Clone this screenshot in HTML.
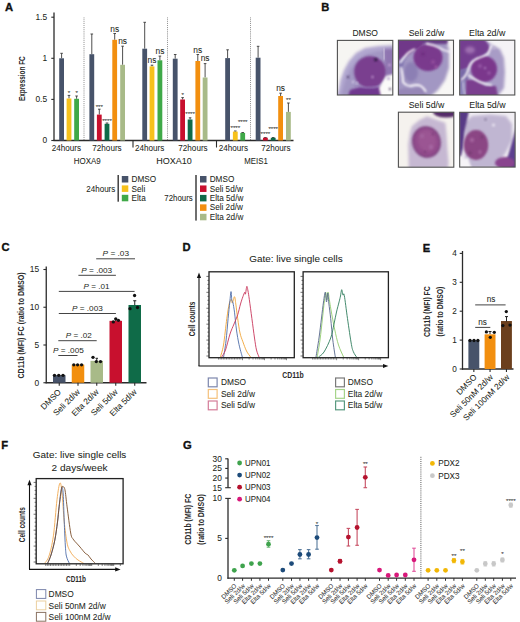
<!DOCTYPE html>
<html><head><meta charset="utf-8"><style>
html,body{margin:0;padding:0;background:#fff;}
svg{display:block;}
text{font-family:"Liberation Sans", sans-serif;}
</style></head><body>
<svg width="520" height="622" viewBox="0 0 520 622">
<rect width="520" height="622" fill="#fff"/>
<text x="5.00" y="11.30" font-size="11.2" text-anchor="start" fill="#111" font-weight="bold" stroke="#111" stroke-width="0.35">A</text>
<line x1="54.00" y1="12.50" x2="54.00" y2="141.00" stroke="#2b2b2b" stroke-width="1.3" />
<line x1="51.30" y1="17.20" x2="54.00" y2="17.20" stroke="#2b2b2b" stroke-width="1.1" />
<text x="47.10" y="20.10" font-size="8.4" text-anchor="end" fill="#231f20" stroke="#231f20" stroke-width="0.05" >1.5</text>
<line x1="51.30" y1="58.30" x2="54.00" y2="58.30" stroke="#2b2b2b" stroke-width="1.1" />
<text x="47.10" y="61.20" font-size="8.4" text-anchor="end" fill="#231f20" stroke="#231f20" stroke-width="0.05" >1</text>
<line x1="51.30" y1="99.40" x2="54.00" y2="99.40" stroke="#2b2b2b" stroke-width="1.1" />
<text x="47.10" y="102.30" font-size="8.4" text-anchor="end" fill="#231f20" stroke="#231f20" stroke-width="0.05" >0.5</text>
<line x1="51.30" y1="140.50" x2="54.00" y2="140.50" stroke="#2b2b2b" stroke-width="1.1" />
<text x="47.10" y="143.40" font-size="8.4" text-anchor="end" fill="#231f20" stroke="#231f20" stroke-width="0.05" >0</text>
<text x="24.70" y="78.70" font-size="8.6" text-anchor="middle" fill="#2a2a2a" font-weight="bold" textLength="44.80" lengthAdjust="spacingAndGlyphs" transform="rotate(-90 24.70 78.70)" >Expression FC</text>
<line x1="53.50" y1="140.50" x2="293.50" y2="140.50" stroke="#2b2b2b" stroke-width="1.3" />
<line x1="133.00" y1="140.50" x2="133.00" y2="147.50" stroke="#2b2b2b" stroke-width="1.1" />
<line x1="216.50" y1="140.50" x2="216.50" y2="147.50" stroke="#2b2b2b" stroke-width="1.1" />
<line x1="84.00" y1="17.50" x2="84.00" y2="140.50" stroke="#5a5a5a" stroke-width="0.8" stroke-dasharray="0.8 1.1"/>
<line x1="167.50" y1="17.50" x2="167.50" y2="140.50" stroke="#5a5a5a" stroke-width="0.8" stroke-dasharray="0.8 1.1"/>
<line x1="250.50" y1="17.50" x2="250.50" y2="140.50" stroke="#5a5a5a" stroke-width="0.8" stroke-dasharray="0.8 1.1"/>
<line x1="61.60" y1="53.30" x2="61.60" y2="58.30" stroke="#3a3a3a" stroke-width="0.9" />
<line x1="60.30" y1="53.30" x2="62.90" y2="53.30" stroke="#3a3a3a" stroke-width="0.9" />
<rect x="59.20" y="58.30" width="4.80" height="82.20" fill="#47536a" />
<line x1="69.00" y1="95.40" x2="69.00" y2="98.50" stroke="#3a3a3a" stroke-width="0.9" />
<line x1="67.70" y1="95.40" x2="70.30" y2="95.40" stroke="#3a3a3a" stroke-width="0.9" />
<rect x="66.60" y="98.50" width="4.80" height="42.00" fill="#f6c11c" />
<text x="69.00" y="95.10" font-size="6.2" text-anchor="middle" fill="#333" stroke="#333" stroke-width="0.05" >*</text>
<line x1="76.60" y1="96.00" x2="76.60" y2="98.80" stroke="#3a3a3a" stroke-width="0.9" />
<line x1="75.30" y1="96.00" x2="77.90" y2="96.00" stroke="#3a3a3a" stroke-width="0.9" />
<rect x="74.20" y="98.80" width="4.80" height="41.70" fill="#3fa948" />
<text x="76.60" y="95.10" font-size="6.2" text-anchor="middle" fill="#333" stroke="#333" stroke-width="0.05" >*</text>
<line x1="91.80" y1="34.00" x2="91.80" y2="54.20" stroke="#3a3a3a" stroke-width="0.9" />
<line x1="90.50" y1="34.00" x2="93.10" y2="34.00" stroke="#3a3a3a" stroke-width="0.9" />
<rect x="89.40" y="54.20" width="4.80" height="86.30" fill="#47536a" />
<line x1="99.30" y1="109.20" x2="99.30" y2="114.60" stroke="#3a3a3a" stroke-width="0.9" />
<line x1="98.00" y1="109.20" x2="100.60" y2="109.20" stroke="#3a3a3a" stroke-width="0.9" />
<rect x="96.90" y="114.60" width="4.80" height="25.90" fill="#c8102e" />
<text x="99.30" y="109.10" font-size="6.2" text-anchor="middle" fill="#333" stroke="#333" stroke-width="0.05" >***</text>
<line x1="107.00" y1="123.00" x2="107.00" y2="123.80" stroke="#3a3a3a" stroke-width="0.9" />
<line x1="105.70" y1="123.00" x2="108.30" y2="123.00" stroke="#3a3a3a" stroke-width="0.9" />
<rect x="104.60" y="123.80" width="4.80" height="16.70" fill="#0f6b48" />
<text x="107.00" y="123.40" font-size="6.2" text-anchor="middle" fill="#333" stroke="#333" stroke-width="0.05" >****</text>
<line x1="114.70" y1="33.50" x2="114.70" y2="39.80" stroke="#3a3a3a" stroke-width="0.9" />
<line x1="113.40" y1="33.50" x2="116.00" y2="33.50" stroke="#3a3a3a" stroke-width="0.9" />
<rect x="112.30" y="39.80" width="4.80" height="100.70" fill="#f28f0f" />
<text x="114.70" y="31.50" font-size="8.4" text-anchor="middle" fill="#231f20" stroke="#231f20" stroke-width="0.05" >ns</text>
<line x1="122.60" y1="46.20" x2="122.60" y2="64.80" stroke="#3a3a3a" stroke-width="0.9" />
<line x1="121.30" y1="46.20" x2="123.90" y2="46.20" stroke="#3a3a3a" stroke-width="0.9" />
<rect x="120.20" y="64.80" width="4.80" height="75.70" fill="#a8ba88" />
<text x="122.60" y="43.60" font-size="8.4" text-anchor="middle" fill="#231f20" stroke="#231f20" stroke-width="0.05" >ns</text>
<line x1="144.70" y1="22.30" x2="144.70" y2="48.70" stroke="#3a3a3a" stroke-width="0.9" />
<line x1="143.40" y1="22.30" x2="146.00" y2="22.30" stroke="#3a3a3a" stroke-width="0.9" />
<rect x="142.30" y="48.70" width="4.80" height="91.80" fill="#47536a" />
<line x1="152.00" y1="65.20" x2="152.00" y2="66.40" stroke="#3a3a3a" stroke-width="0.9" />
<line x1="150.70" y1="65.20" x2="153.30" y2="65.20" stroke="#3a3a3a" stroke-width="0.9" />
<rect x="149.60" y="66.40" width="4.80" height="74.10" fill="#f6c11c" />
<text x="152.00" y="62.70" font-size="8.4" text-anchor="middle" fill="#231f20" stroke="#231f20" stroke-width="0.05" >ns</text>
<line x1="159.90" y1="56.10" x2="159.90" y2="60.30" stroke="#3a3a3a" stroke-width="0.9" />
<line x1="158.60" y1="56.10" x2="161.20" y2="56.10" stroke="#3a3a3a" stroke-width="0.9" />
<rect x="157.50" y="60.30" width="4.80" height="80.20" fill="#3fa948" />
<text x="159.90" y="54.00" font-size="8.4" text-anchor="middle" fill="#231f20" stroke="#231f20" stroke-width="0.05" >ns</text>
<line x1="175.20" y1="54.50" x2="175.20" y2="58.70" stroke="#3a3a3a" stroke-width="0.9" />
<line x1="173.90" y1="54.50" x2="176.50" y2="54.50" stroke="#3a3a3a" stroke-width="0.9" />
<rect x="172.80" y="58.70" width="4.80" height="81.80" fill="#47536a" />
<line x1="182.60" y1="97.60" x2="182.60" y2="99.50" stroke="#3a3a3a" stroke-width="0.9" />
<line x1="181.30" y1="97.60" x2="183.90" y2="97.60" stroke="#3a3a3a" stroke-width="0.9" />
<rect x="180.20" y="99.50" width="4.80" height="41.00" fill="#c8102e" />
<text x="182.60" y="96.60" font-size="6.2" text-anchor="middle" fill="#333" stroke="#333" stroke-width="0.05" >*</text>
<line x1="190.10" y1="117.80" x2="190.10" y2="119.50" stroke="#3a3a3a" stroke-width="0.9" />
<line x1="188.80" y1="117.80" x2="191.40" y2="117.80" stroke="#3a3a3a" stroke-width="0.9" />
<rect x="187.70" y="119.50" width="4.80" height="21.00" fill="#0f6b48" />
<text x="190.10" y="116.10" font-size="6.2" text-anchor="middle" fill="#333" stroke="#333" stroke-width="0.05" >****</text>
<line x1="197.80" y1="54.50" x2="197.80" y2="61.00" stroke="#3a3a3a" stroke-width="0.9" />
<line x1="196.50" y1="54.50" x2="199.10" y2="54.50" stroke="#3a3a3a" stroke-width="0.9" />
<rect x="195.40" y="61.00" width="4.80" height="79.50" fill="#f28f0f" />
<text x="197.80" y="52.80" font-size="8.4" text-anchor="middle" fill="#231f20" stroke="#231f20" stroke-width="0.05" >ns</text>
<line x1="205.10" y1="63.60" x2="205.10" y2="77.50" stroke="#3a3a3a" stroke-width="0.9" />
<line x1="203.80" y1="63.60" x2="206.40" y2="63.60" stroke="#3a3a3a" stroke-width="0.9" />
<rect x="202.70" y="77.50" width="4.80" height="63.00" fill="#a8ba88" />
<text x="205.10" y="61.00" font-size="8.4" text-anchor="middle" fill="#231f20" stroke="#231f20" stroke-width="0.05" >ns</text>
<line x1="227.60" y1="49.80" x2="227.60" y2="58.10" stroke="#3a3a3a" stroke-width="0.9" />
<line x1="226.30" y1="49.80" x2="228.90" y2="49.80" stroke="#3a3a3a" stroke-width="0.9" />
<rect x="225.20" y="58.10" width="4.80" height="82.40" fill="#47536a" />
<line x1="235.30" y1="131.00" x2="235.30" y2="131.60" stroke="#3a3a3a" stroke-width="0.9" />
<line x1="234.00" y1="131.00" x2="236.60" y2="131.00" stroke="#3a3a3a" stroke-width="0.9" />
<rect x="232.90" y="131.60" width="4.80" height="8.90" fill="#f6c11c" />
<text x="235.30" y="130.30" font-size="6.2" text-anchor="middle" fill="#333" stroke="#333" stroke-width="0.05" >****</text>
<line x1="242.70" y1="132.50" x2="242.70" y2="132.90" stroke="#3a3a3a" stroke-width="0.9" />
<line x1="241.40" y1="132.50" x2="244.00" y2="132.50" stroke="#3a3a3a" stroke-width="0.9" />
<rect x="240.30" y="132.90" width="4.80" height="7.60" fill="#3fa948" />
<text x="242.70" y="124.20" font-size="6.2" text-anchor="middle" fill="#333" stroke="#333" stroke-width="0.05" >****</text>
<line x1="258.10" y1="46.30" x2="258.10" y2="57.70" stroke="#3a3a3a" stroke-width="0.9" />
<line x1="256.80" y1="46.30" x2="259.40" y2="46.30" stroke="#3a3a3a" stroke-width="0.9" />
<rect x="255.70" y="57.70" width="4.80" height="82.80" fill="#47536a" />
<line x1="265.40" y1="137.50" x2="265.40" y2="137.70" stroke="#3a3a3a" stroke-width="0.9" />
<line x1="264.10" y1="137.50" x2="266.70" y2="137.50" stroke="#3a3a3a" stroke-width="0.9" />
<rect x="263.00" y="137.70" width="4.80" height="2.80" fill="#c8102e" />
<text x="265.40" y="136.20" font-size="6.2" text-anchor="middle" fill="#333" stroke="#333" stroke-width="0.05" >****</text>
<line x1="273.20" y1="137.50" x2="273.20" y2="137.80" stroke="#3a3a3a" stroke-width="0.9" />
<line x1="271.90" y1="137.50" x2="274.50" y2="137.50" stroke="#3a3a3a" stroke-width="0.9" />
<rect x="270.80" y="137.80" width="4.80" height="2.70" fill="#0f6b48" />
<text x="273.20" y="131.00" font-size="6.2" text-anchor="middle" fill="#333" stroke="#333" stroke-width="0.05" >****</text>
<line x1="280.60" y1="93.20" x2="280.60" y2="96.00" stroke="#3a3a3a" stroke-width="0.9" />
<line x1="279.30" y1="93.20" x2="281.90" y2="93.20" stroke="#3a3a3a" stroke-width="0.9" />
<rect x="278.20" y="96.00" width="4.80" height="44.50" fill="#f28f0f" />
<text x="280.60" y="91.00" font-size="8.4" text-anchor="middle" fill="#231f20" stroke="#231f20" stroke-width="0.05" >ns</text>
<line x1="288.40" y1="103.00" x2="288.40" y2="111.90" stroke="#3a3a3a" stroke-width="0.9" />
<line x1="287.10" y1="103.00" x2="289.70" y2="103.00" stroke="#3a3a3a" stroke-width="0.9" />
<rect x="286.00" y="111.90" width="4.80" height="28.60" fill="#a8ba88" />
<text x="288.40" y="102.10" font-size="6.2" text-anchor="middle" fill="#333" stroke="#333" stroke-width="0.05" >**</text>
<text x="66.40" y="151.20" font-size="8.2" text-anchor="middle" fill="#231f20" stroke="#231f20" stroke-width="0.05" textLength="29.30" lengthAdjust="spacingAndGlyphs" >24hours</text>
<text x="107.00" y="151.20" font-size="8.2" text-anchor="middle" fill="#231f20" stroke="#231f20" stroke-width="0.05" textLength="29.30" lengthAdjust="spacingAndGlyphs" >72hours</text>
<text x="149.60" y="151.20" font-size="8.2" text-anchor="middle" fill="#231f20" stroke="#231f20" stroke-width="0.05" textLength="29.30" lengthAdjust="spacingAndGlyphs" >24hours</text>
<text x="193.00" y="151.20" font-size="8.2" text-anchor="middle" fill="#231f20" stroke="#231f20" stroke-width="0.05" textLength="29.30" lengthAdjust="spacingAndGlyphs" >72hours</text>
<text x="233.40" y="151.20" font-size="8.2" text-anchor="middle" fill="#231f20" stroke="#231f20" stroke-width="0.05" textLength="29.30" lengthAdjust="spacingAndGlyphs" >24hours</text>
<text x="275.80" y="151.20" font-size="8.2" text-anchor="middle" fill="#231f20" stroke="#231f20" stroke-width="0.05" textLength="29.30" lengthAdjust="spacingAndGlyphs" >72hours</text>
<text x="87.30" y="164.00" font-size="8.2" text-anchor="middle" fill="#231f20" stroke="#231f20" stroke-width="0.05" textLength="27.00" lengthAdjust="spacingAndGlyphs" >HOXA9</text>
<text x="174.00" y="164.00" font-size="8.2" text-anchor="middle" fill="#231f20" stroke="#231f20" stroke-width="0.05" textLength="35.50" lengthAdjust="spacingAndGlyphs" >HOXA10</text>
<text x="256.00" y="164.00" font-size="8.2" text-anchor="middle" fill="#231f20" stroke="#231f20" stroke-width="0.05" textLength="23.50" lengthAdjust="spacingAndGlyphs" >MEIS1</text>
<text x="115.30" y="191.50" font-size="8.2" text-anchor="end" fill="#231f20" stroke="#231f20" stroke-width="0.05" textLength="29.00" lengthAdjust="spacingAndGlyphs" >24hours</text>
<rect x="117.50" y="175.00" width="1.40" height="26.70" fill="#333" />
<rect x="121.80" y="176.00" width="6.50" height="6.50" fill="#47536a" />
<text x="131.60" y="182.10" font-size="8.2" text-anchor="start" fill="#231f20" stroke="#231f20" stroke-width="0.05" >DMSO</text>
<rect x="121.80" y="185.40" width="6.50" height="6.50" fill="#f6c11c" />
<text x="131.60" y="191.50" font-size="8.2" text-anchor="start" fill="#231f20" stroke="#231f20" stroke-width="0.05" >Seli</text>
<rect x="121.80" y="194.80" width="6.50" height="6.50" fill="#3fa948" />
<text x="131.60" y="200.90" font-size="8.2" text-anchor="start" fill="#231f20" stroke="#231f20" stroke-width="0.05" >Elta</text>
<text x="192.70" y="201.00" font-size="8.2" text-anchor="end" fill="#231f20" stroke="#231f20" stroke-width="0.05" textLength="28.40" lengthAdjust="spacingAndGlyphs" >72hours</text>
<rect x="195.30" y="175.00" width="1.40" height="45.60" fill="#333" />
<rect x="200.00" y="176.00" width="6.50" height="6.50" fill="#47536a" />
<text x="209.70" y="182.10" font-size="8.2" text-anchor="start" fill="#231f20" stroke="#231f20" stroke-width="0.05" >DMSO</text>
<rect x="200.00" y="185.45" width="6.50" height="6.50" fill="#c8102e" />
<text x="209.70" y="191.55" font-size="8.2" text-anchor="start" fill="#231f20" stroke="#231f20" stroke-width="0.05" >Seli 5d/w</text>
<rect x="200.00" y="194.90" width="6.50" height="6.50" fill="#0f6b48" />
<text x="209.70" y="201.00" font-size="8.2" text-anchor="start" fill="#231f20" stroke="#231f20" stroke-width="0.05" >Elta 5d/w</text>
<rect x="200.00" y="204.35" width="6.50" height="6.50" fill="#f28f0f" />
<text x="209.70" y="210.45" font-size="8.2" text-anchor="start" fill="#231f20" stroke="#231f20" stroke-width="0.05" >Seli 2d/w</text>
<rect x="200.00" y="213.80" width="6.50" height="6.50" fill="#a8ba88" />
<text x="209.70" y="219.90" font-size="8.2" text-anchor="start" fill="#231f20" stroke="#231f20" stroke-width="0.05" >Elta 2d/w</text>
<text x="321.30" y="11.00" font-size="11.2" text-anchor="start" fill="#111" font-weight="bold" stroke="#111" stroke-width="0.35">B</text>
<text x="365.20" y="36.30" font-size="9" text-anchor="middle" fill="#231f20" stroke="#231f20" stroke-width="0.05" textLength="25.50" lengthAdjust="spacingAndGlyphs" >DMSO</text>
<text x="426.50" y="36.30" font-size="9" text-anchor="middle" fill="#231f20" stroke="#231f20" stroke-width="0.05" textLength="35.50" lengthAdjust="spacingAndGlyphs" >Seli 2d/w</text>
<text x="487.20" y="36.30" font-size="9" text-anchor="middle" fill="#231f20" stroke="#231f20" stroke-width="0.05" textLength="36.30" lengthAdjust="spacingAndGlyphs" >Elta 2d/w</text>
<text x="426.50" y="108.40" font-size="9" text-anchor="middle" fill="#231f20" stroke="#231f20" stroke-width="0.05" textLength="35.50" lengthAdjust="spacingAndGlyphs" >Seli 5d/w</text>
<text x="487.40" y="108.40" font-size="9" text-anchor="middle" fill="#231f20" stroke="#231f20" stroke-width="0.05" textLength="36.30" lengthAdjust="spacingAndGlyphs" >Elta 5d/w</text>
<defs><filter id="b1" x="-50%" y="-50%" width="200%" height="200%"><feGaussianBlur stdDeviation="1.4"/></filter><filter id="b2" x="-50%" y="-50%" width="200%" height="200%"><feGaussianBlur stdDeviation="2.2"/></filter><filter id="b05" x="-50%" y="-50%" width="200%" height="200%"><feGaussianBlur stdDeviation="0.8"/></filter><filter id="desat" x="0" y="0" width="100%" height="100%"><feColorMatrix type="saturate" values="0.72"/></filter><clipPath id="cB1"><rect x="337.4" y="40.4" width="55.4" height="54.6"/></clipPath><clipPath id="cB2"><rect x="398.4" y="40.2" width="55.1" height="54.8"/></clipPath><clipPath id="cB3"><rect x="459.7" y="40.2" width="55.1" height="54.8"/></clipPath><clipPath id="cB4"><rect x="398.4" y="112.2" width="55.4" height="55.0"/></clipPath><clipPath id="cB5"><rect x="459.7" y="112.3" width="55.4" height="54.8"/></clipPath></defs>
<g clip-path="url(#cB1)"><g filter="url(#desat)"><rect x="337" y="40" width="56" height="56" fill="#f7f5f1"/><path d="M336,97 L338.5,90 L340.5,80 L344,70 L349,61 L356,53 L365,48 L378,46 L394,45 L394,97 Z" fill="#b4a6dc" filter="url(#b1)"/><path d="M341,97 L343,88 L346,78 L351,68 L357,60 L366,54 L378,51 L394,50 L394,97 Z" fill="#a494cf" filter="url(#b1)"/><path d="M384,49 L394,49 L394,80 L386,80 Z" fill="#9470c0" filter="url(#b1)"/><circle cx="370" cy="72" r="15.8" fill="#84309e" filter="url(#b05)"/><path d="M348,97 L350,90 L360,87 L372,88 L384,86 L386,97 Z" fill="#7a2ca0" filter="url(#b05)"/><path d="M354,86 Q366,89 380,86" stroke="#9a70c4" stroke-width="1" fill="none" filter="url(#b05)"/><path d="M386,76 L394,74 L394,97 L381,97 L379,88 Z" fill="#fbfaf8" filter="url(#b05)"/><line x1="384" y1="48" x2="384.5" y2="60" stroke="#e8e0f4" stroke-width="1.2" filter="url(#b05)"/><circle cx="375.8" cy="59.7" r="1.6" fill="#2e1048" filter="url(#b05)"/><circle cx="348" cy="77" r="1.1" fill="#3e2060" filter="url(#b05)"/><circle cx="390" cy="89" r="1.1" fill="#3e2060" filter="url(#b05)"/><circle cx="353" cy="82" r="1.2" fill="#d8c8f0" filter="url(#b05)"/><circle cx="357" cy="83" r="1" fill="#d8c8f0" filter="url(#b05)"/><circle cx="372.5" cy="77" r="1.2" fill="#c890dc" filter="url(#b05)"/><circle cx="389.5" cy="65" r="1.2" fill="#d8a8e8" filter="url(#b05)"/><circle cx="388.5" cy="78.5" r="1.5" fill="#b8a0d8" filter="url(#b05)"/></g></g>
<rect x="337.4" y="40.4" width="55.4" height="54.6" fill="none" stroke="#505050" stroke-width="1.1"/>
<g clip-path="url(#cB2)"><g filter="url(#desat)"><rect x="398" y="40" width="56" height="56" fill="#f8f7f4"/><path d="M397,39 L446,39 L449,50 L449,68 L445,80 L438,90 L430,97 L397,97 Z" fill="#a494cf" filter="url(#b1)"/><path d="M397,39 L428,39 L421,47 L412,52 L404,58 L397,63 Z" fill="#7a2c98" filter="url(#b05)"/><path d="M420,39 L448,39 L447,44 L435,44 L424,43 Z" fill="#6e3494" filter="url(#b05)"/><path d="M397,64 L402,58 L408,54 L404,62 L402,72 Z" fill="#8070c0" filter="url(#b05)"/><ellipse cx="411" cy="72" rx="7" ry="10" fill="#8e7cc2" filter="url(#b1)"/><path d="M397,90 L405,88 L412,89 L420,87 L426,92 L426,97 L397,97 Z" fill="#9a84c4" filter="url(#b05)"/><ellipse cx="428" cy="57.5" rx="14.5" ry="13.5" fill="#85299c" filter="url(#b05)"/><circle cx="433" cy="62" r="2.2" fill="#9a3aa8" filter="url(#b05)"/><circle cx="423" cy="54" r="2" fill="#7a2290" filter="url(#b05)"/><circle cx="436" cy="67" r="1.4" fill="#b050b4" filter="url(#b05)"/><path d="M400,63 Q404,57 408,53 Q412,50 415,49" stroke="#fbf8fd" stroke-width="1.8" fill="none" filter="url(#b05)"/><path d="M401,67 Q403,76 403,82 Q406,86 411,86 Q417,84 421,86 Q424,88 426,92" stroke="#fbf8fd" stroke-width="1.9" fill="none" filter="url(#b05)"/><path d="M426,43.5 Q434,45 440,48 Q444,51 452,52" stroke="#f6f0fa" stroke-width="1.8" fill="none" filter="url(#b05)"/></g></g>
<rect x="398.4" y="40.2" width="55.1" height="54.8" fill="none" stroke="#505050" stroke-width="1.1"/>
<g clip-path="url(#cB3)"><g filter="url(#desat)"><rect x="459" y="40" width="57" height="56" fill="#f6f3f7"/><path d="M459,39 L484,39 L492,45 L500,49 L504,58 L505,72 L504,88 L497,97 L459,97 Z" fill="#aa9ad2" filter="url(#b1)"/><path d="M466,56 L476,52 L486,52 L482,57 L472,60 L467,62 Z" fill="#7a60b8" filter="url(#b05)"/><path d="M459,39 L484,39 L488,44 L490,50 L482,56 L472,60 L468,68 L459,72 Z" fill="#7e30a0" filter="url(#b05)"/><ellipse cx="470" cy="50" rx="5" ry="3.5" fill="#a868c0" filter="url(#b1)"/><path d="M459,70 L468,68 L468,80 L462,82 L459,82 Z" fill="#7a66b8" filter="url(#b05)"/><path d="M459,82 L466,80 L466,97 L459,97 Z" fill="#8a80c8" filter="url(#b05)"/><circle cx="484" cy="69" r="13" fill="#86289c" filter="url(#b05)"/><circle cx="480" cy="66" r="2" fill="#a04ab4" filter="url(#b05)"/><circle cx="489" cy="73" r="1.8" fill="#a04ab4" filter="url(#b05)"/><circle cx="485" cy="68" r="1.1" fill="#c88ad8" filter="url(#b05)"/><path d="M466,80 L474,80 L486,86 L496,86 L498,97 L466,97 Z" fill="#86309e" filter="url(#b05)"/><path d="M461,80 Q466,77 468,70 Q470,62 476,59 Q484,56 488,54 Q490,49 492,45" stroke="#fbf8fd" stroke-width="1.9" fill="none" filter="url(#b05)"/><path d="M468,75 Q474,79 480,82 Q486,85 492,85" stroke="#f8f4fb" stroke-width="1.7" fill="none" filter="url(#b05)"/><path d="M463,82 Q463,88 465,95" stroke="#e8e0f4" stroke-width="1" fill="none" filter="url(#b05)"/><circle cx="494" cy="48" r="1.5" fill="#c8b8e0" filter="url(#b05)"/></g></g>
<rect x="459.7" y="40.2" width="55.1" height="54.8" fill="none" stroke="#505050" stroke-width="1.1"/>
<g clip-path="url(#cB4)"><g filter="url(#desat)"><rect x="398" y="112" width="56" height="56" fill="#f6f2ec"/><path d="M408.8,169 L408.2,144.3 L410,132 L412,126 L419.5,120 L427,116.3 L435.7,119.5 L445.4,122.8 L446.5,133.5 L447.5,149.7 L448.6,162.6 L448,169 Z" fill="#c9b6da" filter="url(#b1)"/><ellipse cx="426.5" cy="142" rx="13.6" ry="15.2" fill="#9e3e98" stroke="#7e2a80" stroke-width="1.2" transform="rotate(-15 426.5 142)" filter="url(#b05)"/><ellipse cx="427" cy="141" rx="9" ry="11" fill="#a8489e" transform="rotate(-15 427 141)" filter="url(#b1)"/><ellipse cx="446" cy="112" rx="13" ry="5.5" fill="#5c2474" filter="url(#b05)"/><circle cx="422" cy="136" r="2" fill="#b05aaa" filter="url(#b05)"/><circle cx="431" cy="147" r="2.2" fill="#b25cae" filter="url(#b05)"/><circle cx="425" cy="152" r="1.6" fill="#8e3488" filter="url(#b05)"/><circle cx="433" cy="134" r="1.5" fill="#8e3488" filter="url(#b05)"/></g></g>
<rect x="398.4" y="112.2" width="55.4" height="55.0" fill="none" stroke="#505050" stroke-width="1.1"/>
<g clip-path="url(#cB5)"><g filter="url(#desat)"><rect x="459" y="112" width="57" height="56" fill="#f2eef5"/><path d="M465,122 L472,116 L490,114.5 L506,116 L512,124 L512,140 L506,152 L496,168 L465,168 Z" fill="#c2b4da" filter="url(#b1)"/><path d="M459,111 L469,111 L467,120 L464.5,132 L463,148 L461,156 L459,156 Z" fill="#5c3296" filter="url(#b05)"/><path d="M516,128 L516,169 L502,169 L508,156 L512,142 Z" fill="#6238a0" filter="url(#b05)"/><ellipse cx="505" cy="163" rx="10" ry="6" fill="#96369c" filter="url(#b05)"/><ellipse cx="476" cy="145" rx="12.2" ry="15" fill="#98388f" filter="url(#b05)"/><circle cx="472" cy="140" r="2.2" fill="#b058a8" filter="url(#b05)"/><circle cx="480" cy="152" r="2" fill="#aa52a4" filter="url(#b05)"/><circle cx="470" cy="153" r="1.8" fill="#82307e" filter="url(#b05)"/><circle cx="482" cy="137" r="1.6" fill="#82307e" filter="url(#b05)"/><path d="M459,160 L468,158 L472,169 L459,169 Z" fill="#f6f4f8" filter="url(#b05)"/><circle cx="485.5" cy="119.5" r="1" fill="#6a5a8a" filter="url(#b05)"/><circle cx="493.5" cy="125" r="1.5" fill="#ece6f4" filter="url(#b05)"/></g></g>
<rect x="459.7" y="112.3" width="55.4" height="54.8" fill="none" stroke="#505050" stroke-width="1.1"/>
<text x="1.40" y="250.50" font-size="11.2" text-anchor="start" fill="#111" font-weight="bold" stroke="#111" stroke-width="0.35">C</text>
<line x1="46.25" y1="266.50" x2="46.25" y2="383.35" stroke="#2b2b2b" stroke-width="1.3" />
<line x1="43.40" y1="269.50" x2="46.25" y2="269.50" stroke="#2b2b2b" stroke-width="1.1" />
<text x="39.20" y="272.40" font-size="8.4" text-anchor="end" fill="#231f20" stroke="#231f20" stroke-width="0.05" >15</text>
<line x1="43.40" y1="307.25" x2="46.25" y2="307.25" stroke="#2b2b2b" stroke-width="1.1" />
<text x="39.20" y="310.15" font-size="8.4" text-anchor="end" fill="#231f20" stroke="#231f20" stroke-width="0.05" >10</text>
<line x1="43.40" y1="345.00" x2="46.25" y2="345.00" stroke="#2b2b2b" stroke-width="1.1" />
<text x="39.20" y="347.90" font-size="8.4" text-anchor="end" fill="#231f20" stroke="#231f20" stroke-width="0.05" >5</text>
<line x1="43.40" y1="382.75" x2="46.25" y2="382.75" stroke="#2b2b2b" stroke-width="1.1" />
<text x="39.20" y="385.65" font-size="8.4" text-anchor="end" fill="#231f20" stroke="#231f20" stroke-width="0.05" >0</text>
<text x="23.60" y="325.50" font-size="8.8" text-anchor="middle" fill="#2a2a2a" font-weight="bold" textLength="106.00" lengthAdjust="spacingAndGlyphs" transform="rotate(-90 23.60 325.50)" >CD11b (MFI) FC (ratio to DMSO)</text>
<line x1="45.60" y1="382.75" x2="146.50" y2="382.75" stroke="#2b2b2b" stroke-width="1.3" />
<rect x="53.00" y="375.20" width="12.50" height="7.55" fill="#47536a" />
<line x1="59.25" y1="382.75" x2="59.25" y2="385.75" stroke="#2b2b2b" stroke-width="1.1" />
<rect x="71.75" y="364.63" width="12.50" height="18.12" fill="#f28f0f" />
<line x1="78.00" y1="382.75" x2="78.00" y2="385.75" stroke="#2b2b2b" stroke-width="1.1" />
<rect x="90.50" y="360.86" width="12.50" height="21.89" fill="#a8ba88" />
<line x1="96.75" y1="382.75" x2="96.75" y2="385.75" stroke="#2b2b2b" stroke-width="1.1" />
<rect x="109.50" y="320.84" width="12.50" height="61.91" fill="#c8102e" />
<line x1="115.75" y1="382.75" x2="115.75" y2="385.75" stroke="#2b2b2b" stroke-width="1.1" />
<rect x="128.50" y="304.99" width="12.50" height="77.76" fill="#0f6b48" />
<line x1="134.75" y1="382.75" x2="134.75" y2="385.75" stroke="#2b2b2b" stroke-width="1.1" />
<line x1="134.75" y1="300.75" x2="134.75" y2="305.00" stroke="#222" stroke-width="1" />
<line x1="133.20" y1="300.75" x2="136.30" y2="300.75" stroke="#222" stroke-width="1" />
<line x1="115.75" y1="318.60" x2="115.75" y2="321.00" stroke="#222" stroke-width="1" />
<line x1="114.50" y1="318.60" x2="117.00" y2="318.60" stroke="#222" stroke-width="1" />
<line x1="96.75" y1="358.30" x2="96.75" y2="361.00" stroke="#222" stroke-width="1" />
<line x1="95.50" y1="358.30" x2="98.00" y2="358.30" stroke="#222" stroke-width="1" />
<circle cx="54.50" cy="375.30" r="1.65" fill="#111" />
<circle cx="58.75" cy="375.30" r="1.65" fill="#111" />
<circle cx="63.00" cy="375.30" r="1.65" fill="#111" />
<circle cx="73.80" cy="364.80" r="1.65" fill="#111" />
<circle cx="77.60" cy="364.80" r="1.65" fill="#111" />
<circle cx="81.60" cy="364.80" r="1.65" fill="#111" />
<circle cx="93.00" cy="357.30" r="1.65" fill="#111" />
<circle cx="96.30" cy="361.60" r="1.65" fill="#111" />
<circle cx="100.50" cy="361.60" r="1.65" fill="#111" />
<circle cx="115.80" cy="318.90" r="1.65" fill="#111" />
<circle cx="118.40" cy="320.30" r="1.65" fill="#111" />
<circle cx="113.30" cy="321.90" r="1.65" fill="#111" />
<circle cx="134.60" cy="295.50" r="1.65" fill="#111" />
<circle cx="130.00" cy="308.70" r="1.65" fill="#111" />
<circle cx="137.50" cy="307.50" r="1.65" fill="#111" />
<line x1="96.20" y1="258.80" x2="135.00" y2="258.80" stroke="#444" stroke-width="1" />
<text x="102.60" y="256.40" font-size="7.6" fill="#231f20" textLength="26.50" lengthAdjust="spacingAndGlyphs"><tspan font-style="italic">P</tspan> = .03</text>
<line x1="78.40" y1="275.30" x2="115.90" y2="275.30" stroke="#444" stroke-width="1" />
<text x="81.30" y="272.90" font-size="7.6" fill="#231f20" textLength="30.80" lengthAdjust="spacingAndGlyphs"><tspan font-style="italic">P</tspan> = .003</text>
<line x1="58.80" y1="291.40" x2="134.60" y2="291.40" stroke="#444" stroke-width="1" />
<text x="83.60" y="289.00" font-size="7.6" fill="#231f20" textLength="25.90" lengthAdjust="spacingAndGlyphs"><tspan font-style="italic">P</tspan> = .01</text>
<line x1="58.80" y1="313.50" x2="115.90" y2="313.50" stroke="#444" stroke-width="1" />
<text x="72.00" y="311.10" font-size="7.6" fill="#231f20" textLength="30.80" lengthAdjust="spacingAndGlyphs"><tspan font-style="italic">P</tspan> = .003</text>
<line x1="58.30" y1="340.70" x2="96.70" y2="340.70" stroke="#444" stroke-width="1" />
<text x="65.80" y="338.30" font-size="7.6" fill="#231f20" textLength="25.90" lengthAdjust="spacingAndGlyphs"><tspan font-style="italic">P</tspan> = .02</text>
<line x1="58.30" y1="355.50" x2="77.50" y2="355.50" stroke="#444" stroke-width="1" />
<text x="53.00" y="353.10" font-size="7.6" fill="#231f20" textLength="30.80" lengthAdjust="spacingAndGlyphs"><tspan font-style="italic">P</tspan> = .005</text>
<text x="61.65" y="392.55" font-size="8.3" text-anchor="end" fill="#231f20" stroke="#231f20" stroke-width="0.05" transform="rotate(-45 61.65 392.55)" >DMSO</text>
<text x="80.40" y="392.55" font-size="8.3" text-anchor="end" fill="#231f20" stroke="#231f20" stroke-width="0.05" transform="rotate(-45 80.40 392.55)" >Seli 2d/w</text>
<text x="99.15" y="392.55" font-size="8.3" text-anchor="end" fill="#231f20" stroke="#231f20" stroke-width="0.05" transform="rotate(-45 99.15 392.55)" >Elta 2d/w</text>
<text x="118.15" y="392.55" font-size="8.3" text-anchor="end" fill="#231f20" stroke="#231f20" stroke-width="0.05" transform="rotate(-45 118.15 392.55)" >Seli 5d/w</text>
<text x="137.15" y="392.55" font-size="8.3" text-anchor="end" fill="#231f20" stroke="#231f20" stroke-width="0.05" transform="rotate(-45 137.15 392.55)" >Elta 5d/w</text>
<text x="182.60" y="251.30" font-size="11.2" text-anchor="start" fill="#111" font-weight="bold" stroke="#111" stroke-width="0.35">D</text>
<text x="296.00" y="262.20" font-size="9.3" text-anchor="middle" fill="#231f20" stroke="#231f20" stroke-width="0.05" textLength="93.50" lengthAdjust="spacingAndGlyphs" >Gate: live single cells</text>
<rect x="209.00" y="271.8" width="85.3" height="85.9" fill="none" stroke="#222" stroke-width="1.3"/>
<line x1="206.40" y1="356.00" x2="209.00" y2="356.00" stroke="#333" stroke-width="0.7" />
<line x1="207.40" y1="352.02" x2="209.00" y2="352.02" stroke="#333" stroke-width="0.7" />
<line x1="207.40" y1="348.04" x2="209.00" y2="348.04" stroke="#333" stroke-width="0.7" />
<line x1="207.40" y1="344.06" x2="209.00" y2="344.06" stroke="#333" stroke-width="0.7" />
<line x1="206.40" y1="340.08" x2="209.00" y2="340.08" stroke="#333" stroke-width="0.7" />
<line x1="207.40" y1="336.10" x2="209.00" y2="336.10" stroke="#333" stroke-width="0.7" />
<line x1="207.40" y1="332.12" x2="209.00" y2="332.12" stroke="#333" stroke-width="0.7" />
<line x1="207.40" y1="328.14" x2="209.00" y2="328.14" stroke="#333" stroke-width="0.7" />
<line x1="206.40" y1="324.16" x2="209.00" y2="324.16" stroke="#333" stroke-width="0.7" />
<line x1="207.40" y1="320.18" x2="209.00" y2="320.18" stroke="#333" stroke-width="0.7" />
<line x1="207.40" y1="316.20" x2="209.00" y2="316.20" stroke="#333" stroke-width="0.7" />
<line x1="207.40" y1="312.22" x2="209.00" y2="312.22" stroke="#333" stroke-width="0.7" />
<line x1="206.40" y1="308.24" x2="209.00" y2="308.24" stroke="#333" stroke-width="0.7" />
<line x1="207.40" y1="304.26" x2="209.00" y2="304.26" stroke="#333" stroke-width="0.7" />
<line x1="207.40" y1="300.28" x2="209.00" y2="300.28" stroke="#333" stroke-width="0.7" />
<line x1="207.40" y1="296.30" x2="209.00" y2="296.30" stroke="#333" stroke-width="0.7" />
<line x1="206.40" y1="292.32" x2="209.00" y2="292.32" stroke="#333" stroke-width="0.7" />
<line x1="207.40" y1="288.34" x2="209.00" y2="288.34" stroke="#333" stroke-width="0.7" />
<line x1="207.40" y1="284.36" x2="209.00" y2="284.36" stroke="#333" stroke-width="0.7" />
<line x1="207.40" y1="280.38" x2="209.00" y2="280.38" stroke="#333" stroke-width="0.7" />
<line x1="206.40" y1="276.40" x2="209.00" y2="276.40" stroke="#333" stroke-width="0.7" />
<line x1="218.50" y1="357.70" x2="218.50" y2="359.50" stroke="#333" stroke-width="0.6" />
<line x1="220.10" y1="357.70" x2="220.10" y2="359.50" stroke="#333" stroke-width="0.6" />
<line x1="221.70" y1="357.70" x2="221.70" y2="359.50" stroke="#333" stroke-width="0.6" />
<line x1="223.30" y1="357.70" x2="223.30" y2="359.50" stroke="#333" stroke-width="0.6" />
<line x1="224.90" y1="357.70" x2="224.90" y2="359.50" stroke="#333" stroke-width="0.6" />
<line x1="226.50" y1="357.70" x2="226.50" y2="359.50" stroke="#333" stroke-width="0.6" />
<line x1="228.10" y1="357.70" x2="228.10" y2="359.50" stroke="#333" stroke-width="0.6" />
<line x1="229.70" y1="357.70" x2="229.70" y2="359.50" stroke="#333" stroke-width="0.6" />
<line x1="231.30" y1="357.70" x2="231.30" y2="359.50" stroke="#333" stroke-width="0.6" />
<line x1="232.90" y1="357.70" x2="232.90" y2="359.50" stroke="#333" stroke-width="0.6" />
<line x1="234.50" y1="357.70" x2="234.50" y2="359.50" stroke="#333" stroke-width="0.6" />
<line x1="236.10" y1="357.70" x2="236.10" y2="359.50" stroke="#333" stroke-width="0.6" />
<line x1="237.70" y1="357.70" x2="237.70" y2="359.50" stroke="#333" stroke-width="0.6" />
<line x1="239.30" y1="357.70" x2="239.30" y2="359.50" stroke="#333" stroke-width="0.6" />
<line x1="240.90" y1="357.70" x2="240.90" y2="359.50" stroke="#333" stroke-width="0.6" />
<line x1="242.50" y1="357.70" x2="242.50" y2="360.20" stroke="#333" stroke-width="0.6" />
<line x1="249.12" y1="357.70" x2="249.12" y2="359.50" stroke="#333" stroke-width="0.6" />
<line x1="253.00" y1="357.70" x2="253.00" y2="359.50" stroke="#333" stroke-width="0.6" />
<line x1="255.75" y1="357.70" x2="255.75" y2="359.50" stroke="#333" stroke-width="0.6" />
<line x1="257.88" y1="357.70" x2="257.88" y2="359.50" stroke="#333" stroke-width="0.6" />
<line x1="259.62" y1="357.70" x2="259.62" y2="359.50" stroke="#333" stroke-width="0.6" />
<line x1="261.09" y1="357.70" x2="261.09" y2="359.50" stroke="#333" stroke-width="0.6" />
<line x1="262.37" y1="357.70" x2="262.37" y2="359.50" stroke="#333" stroke-width="0.6" />
<line x1="263.49" y1="357.70" x2="263.49" y2="359.50" stroke="#333" stroke-width="0.6" />
<line x1="264.50" y1="357.70" x2="264.50" y2="360.20" stroke="#333" stroke-width="0.6" />
<line x1="271.12" y1="357.70" x2="271.12" y2="359.50" stroke="#333" stroke-width="0.6" />
<line x1="275.00" y1="357.70" x2="275.00" y2="359.50" stroke="#333" stroke-width="0.6" />
<line x1="277.75" y1="357.70" x2="277.75" y2="359.50" stroke="#333" stroke-width="0.6" />
<line x1="279.88" y1="357.70" x2="279.88" y2="359.50" stroke="#333" stroke-width="0.6" />
<line x1="281.62" y1="357.70" x2="281.62" y2="359.50" stroke="#333" stroke-width="0.6" />
<line x1="283.09" y1="357.70" x2="283.09" y2="359.50" stroke="#333" stroke-width="0.6" />
<line x1="284.37" y1="357.70" x2="284.37" y2="359.50" stroke="#333" stroke-width="0.6" />
<line x1="285.49" y1="357.70" x2="285.49" y2="359.50" stroke="#333" stroke-width="0.6" />
<line x1="286.50" y1="357.70" x2="286.50" y2="360.20" stroke="#333" stroke-width="0.6" />
<rect x="303.10" y="271.8" width="85.3" height="85.9" fill="none" stroke="#222" stroke-width="1.3"/>
<line x1="300.50" y1="356.00" x2="303.10" y2="356.00" stroke="#333" stroke-width="0.7" />
<line x1="301.50" y1="352.02" x2="303.10" y2="352.02" stroke="#333" stroke-width="0.7" />
<line x1="301.50" y1="348.04" x2="303.10" y2="348.04" stroke="#333" stroke-width="0.7" />
<line x1="301.50" y1="344.06" x2="303.10" y2="344.06" stroke="#333" stroke-width="0.7" />
<line x1="300.50" y1="340.08" x2="303.10" y2="340.08" stroke="#333" stroke-width="0.7" />
<line x1="301.50" y1="336.10" x2="303.10" y2="336.10" stroke="#333" stroke-width="0.7" />
<line x1="301.50" y1="332.12" x2="303.10" y2="332.12" stroke="#333" stroke-width="0.7" />
<line x1="301.50" y1="328.14" x2="303.10" y2="328.14" stroke="#333" stroke-width="0.7" />
<line x1="300.50" y1="324.16" x2="303.10" y2="324.16" stroke="#333" stroke-width="0.7" />
<line x1="301.50" y1="320.18" x2="303.10" y2="320.18" stroke="#333" stroke-width="0.7" />
<line x1="301.50" y1="316.20" x2="303.10" y2="316.20" stroke="#333" stroke-width="0.7" />
<line x1="301.50" y1="312.22" x2="303.10" y2="312.22" stroke="#333" stroke-width="0.7" />
<line x1="300.50" y1="308.24" x2="303.10" y2="308.24" stroke="#333" stroke-width="0.7" />
<line x1="301.50" y1="304.26" x2="303.10" y2="304.26" stroke="#333" stroke-width="0.7" />
<line x1="301.50" y1="300.28" x2="303.10" y2="300.28" stroke="#333" stroke-width="0.7" />
<line x1="301.50" y1="296.30" x2="303.10" y2="296.30" stroke="#333" stroke-width="0.7" />
<line x1="300.50" y1="292.32" x2="303.10" y2="292.32" stroke="#333" stroke-width="0.7" />
<line x1="301.50" y1="288.34" x2="303.10" y2="288.34" stroke="#333" stroke-width="0.7" />
<line x1="301.50" y1="284.36" x2="303.10" y2="284.36" stroke="#333" stroke-width="0.7" />
<line x1="301.50" y1="280.38" x2="303.10" y2="280.38" stroke="#333" stroke-width="0.7" />
<line x1="300.50" y1="276.40" x2="303.10" y2="276.40" stroke="#333" stroke-width="0.7" />
<line x1="312.60" y1="357.70" x2="312.60" y2="359.50" stroke="#333" stroke-width="0.6" />
<line x1="314.20" y1="357.70" x2="314.20" y2="359.50" stroke="#333" stroke-width="0.6" />
<line x1="315.80" y1="357.70" x2="315.80" y2="359.50" stroke="#333" stroke-width="0.6" />
<line x1="317.40" y1="357.70" x2="317.40" y2="359.50" stroke="#333" stroke-width="0.6" />
<line x1="319.00" y1="357.70" x2="319.00" y2="359.50" stroke="#333" stroke-width="0.6" />
<line x1="320.60" y1="357.70" x2="320.60" y2="359.50" stroke="#333" stroke-width="0.6" />
<line x1="322.20" y1="357.70" x2="322.20" y2="359.50" stroke="#333" stroke-width="0.6" />
<line x1="323.80" y1="357.70" x2="323.80" y2="359.50" stroke="#333" stroke-width="0.6" />
<line x1="325.40" y1="357.70" x2="325.40" y2="359.50" stroke="#333" stroke-width="0.6" />
<line x1="327.00" y1="357.70" x2="327.00" y2="359.50" stroke="#333" stroke-width="0.6" />
<line x1="328.60" y1="357.70" x2="328.60" y2="359.50" stroke="#333" stroke-width="0.6" />
<line x1="330.20" y1="357.70" x2="330.20" y2="359.50" stroke="#333" stroke-width="0.6" />
<line x1="331.80" y1="357.70" x2="331.80" y2="359.50" stroke="#333" stroke-width="0.6" />
<line x1="333.40" y1="357.70" x2="333.40" y2="359.50" stroke="#333" stroke-width="0.6" />
<line x1="335.00" y1="357.70" x2="335.00" y2="359.50" stroke="#333" stroke-width="0.6" />
<line x1="336.60" y1="357.70" x2="336.60" y2="360.20" stroke="#333" stroke-width="0.6" />
<line x1="343.22" y1="357.70" x2="343.22" y2="359.50" stroke="#333" stroke-width="0.6" />
<line x1="347.10" y1="357.70" x2="347.10" y2="359.50" stroke="#333" stroke-width="0.6" />
<line x1="349.85" y1="357.70" x2="349.85" y2="359.50" stroke="#333" stroke-width="0.6" />
<line x1="351.98" y1="357.70" x2="351.98" y2="359.50" stroke="#333" stroke-width="0.6" />
<line x1="353.72" y1="357.70" x2="353.72" y2="359.50" stroke="#333" stroke-width="0.6" />
<line x1="355.19" y1="357.70" x2="355.19" y2="359.50" stroke="#333" stroke-width="0.6" />
<line x1="356.47" y1="357.70" x2="356.47" y2="359.50" stroke="#333" stroke-width="0.6" />
<line x1="357.59" y1="357.70" x2="357.59" y2="359.50" stroke="#333" stroke-width="0.6" />
<line x1="358.60" y1="357.70" x2="358.60" y2="360.20" stroke="#333" stroke-width="0.6" />
<line x1="365.22" y1="357.70" x2="365.22" y2="359.50" stroke="#333" stroke-width="0.6" />
<line x1="369.10" y1="357.70" x2="369.10" y2="359.50" stroke="#333" stroke-width="0.6" />
<line x1="371.85" y1="357.70" x2="371.85" y2="359.50" stroke="#333" stroke-width="0.6" />
<line x1="373.98" y1="357.70" x2="373.98" y2="359.50" stroke="#333" stroke-width="0.6" />
<line x1="375.72" y1="357.70" x2="375.72" y2="359.50" stroke="#333" stroke-width="0.6" />
<line x1="377.19" y1="357.70" x2="377.19" y2="359.50" stroke="#333" stroke-width="0.6" />
<line x1="378.47" y1="357.70" x2="378.47" y2="359.50" stroke="#333" stroke-width="0.6" />
<line x1="379.59" y1="357.70" x2="379.59" y2="359.50" stroke="#333" stroke-width="0.6" />
<line x1="380.60" y1="357.70" x2="380.60" y2="360.20" stroke="#333" stroke-width="0.6" />
<path d="M220.40,357.00 C220.92,355.00 222.43,351.40 223.50,345.00 C224.57,338.60 225.85,325.43 226.80,318.60 C227.75,311.77 228.45,307.22 229.20,304.00 C229.95,300.78 230.77,299.47 231.30,299.30 C231.83,299.13 231.87,303.43 232.40,303.00 C232.93,302.57 233.93,296.53 234.50,296.70 C235.07,296.87 235.27,300.35 235.80,304.00 C236.33,307.65 237.00,313.77 237.70,318.60 C238.40,323.43 239.13,329.13 240.00,333.00 C240.87,336.87 241.82,338.80 242.90,341.80 C243.98,344.80 245.22,348.47 246.50,351.00 C247.78,353.53 249.92,356.00 250.60,357.00" fill="none" stroke="#f0a436" stroke-width="0.9" stroke-linejoin="round"/>
<path d="M223.60,357.00 C224.00,354.33 225.25,347.40 226.00,341.00 C226.75,334.60 227.47,325.10 228.10,318.60 C228.73,312.10 229.32,306.50 229.80,302.00 C230.28,297.50 230.67,291.93 231.00,291.60 C231.33,291.27 231.47,298.10 231.80,300.00 C232.13,301.90 232.55,300.97 233.00,303.00 C233.45,305.03 233.92,307.70 234.50,312.20 C235.08,316.70 235.75,324.63 236.50,330.00 C237.25,335.37 238.03,339.90 239.00,344.40 C239.97,348.90 241.75,354.90 242.30,357.00" fill="none" stroke="#4d6ca8" stroke-width="0.9" stroke-linejoin="round"/>
<path d="M221.70,357.00 C222.33,355.83 224.12,353.83 225.50,350.00 C226.88,346.17 228.58,338.33 230.00,334.00 C231.42,329.67 232.72,327.20 234.00,324.00 C235.28,320.80 236.62,318.13 237.70,314.80 C238.78,311.47 239.63,307.02 240.50,304.00 C241.37,300.98 242.18,298.67 242.90,296.70 C243.62,294.73 244.37,292.65 244.80,292.20 C245.23,291.75 245.17,294.97 245.50,294.00 C245.83,293.03 246.38,286.90 246.80,286.40 C247.22,285.90 247.58,288.85 248.00,291.00 C248.42,293.15 248.65,294.70 249.30,299.30 C249.95,303.90 251.03,312.15 251.90,318.60 C252.77,325.05 253.73,332.77 254.50,338.00 C255.27,343.23 255.75,346.83 256.50,350.00 C257.25,353.17 258.58,355.83 259.00,357.00" fill="none" stroke="#c8365a" stroke-width="0.9" stroke-linejoin="round"/>
<path d="M317.20,357.00 C317.67,354.17 319.12,346.50 320.00,340.00 C320.88,333.50 321.75,324.67 322.50,318.00 C323.25,311.33 323.95,304.25 324.50,300.00 C325.05,295.75 325.42,292.50 325.80,292.50 C326.18,292.50 326.43,300.08 326.80,300.00 C327.17,299.92 327.57,292.00 328.00,292.00 C328.43,292.00 328.90,297.00 329.40,300.00 C329.90,303.00 330.13,305.17 331.00,310.00 C331.87,314.83 333.35,323.17 334.60,329.00 C335.85,334.83 337.00,340.33 338.50,345.00 C340.00,349.67 342.75,355.00 343.60,357.00" fill="none" stroke="#92cc6e" stroke-width="0.9" stroke-linejoin="round"/>
<path d="M316.00,357.00 C316.50,353.83 318.08,344.50 319.00,338.00 C319.92,331.50 320.75,324.00 321.50,318.00 C322.25,312.00 322.87,306.30 323.50,302.00 C324.13,297.70 324.80,292.20 325.30,292.20 C325.80,292.20 326.08,301.87 326.50,302.00 C326.92,302.13 327.42,292.83 327.80,293.00 C328.18,293.17 328.32,298.73 328.80,303.00 C329.28,307.27 330.03,312.43 330.70,318.60 C331.37,324.77 332.03,333.60 332.80,340.00 C333.57,346.40 334.88,354.17 335.30,357.00" fill="none" stroke="#55658a" stroke-width="0.9" stroke-linejoin="round"/>
<path d="M318.50,357.00 C319.42,356.17 321.97,355.17 324.00,352.00 C326.03,348.83 329.03,342.67 330.70,338.00 C332.37,333.33 333.03,328.33 334.00,324.00 C334.97,319.67 335.65,315.68 336.50,312.00 C337.35,308.32 338.43,304.57 339.10,301.90 C339.77,299.23 340.07,298.03 340.50,296.00 C340.93,293.97 341.28,289.87 341.70,289.70 C342.12,289.53 342.57,294.03 343.00,295.00 C343.43,295.97 343.55,291.57 344.30,295.50 C345.05,299.43 346.32,310.45 347.50,318.60 C348.68,326.75 350.40,338.83 351.40,344.40 C352.40,349.97 352.65,349.90 353.50,352.00 C354.35,354.10 356.00,356.17 356.50,357.00" fill="none" stroke="#2f7d5c" stroke-width="0.9" stroke-linejoin="round"/>
<path d="M44.70,563.30 C45.42,562.08 47.55,560.57 49.00,556.00 C50.45,551.43 52.07,545.28 53.40,535.90 C54.73,526.52 55.92,508.50 57.00,499.70 C58.08,490.90 59.07,484.30 59.90,483.10 C60.73,481.90 61.28,486.12 62.00,492.50 C62.72,498.88 63.35,512.97 64.20,521.40 C65.05,529.83 66.13,538.17 67.10,543.10 C68.07,548.03 68.92,548.83 70.00,551.00 C71.08,553.17 72.27,554.60 73.60,556.10 C74.93,557.60 76.32,558.80 78.00,560.00 C79.68,561.20 82.75,562.75 83.70,563.30" fill="none" stroke="#f0a850" stroke-width="0.9" stroke-linejoin="round"/>
<path d="M47.60,563.30 C48.17,561.92 49.80,558.85 51.00,555.00 C52.20,551.15 53.72,545.70 54.80,540.20 C55.88,534.70 56.78,527.55 57.50,522.00 C58.22,516.45 58.60,511.57 59.10,506.90 C59.60,502.23 60.13,496.98 60.50,494.00 C60.87,491.02 61.02,490.10 61.30,489.00 C61.58,487.90 61.88,486.57 62.20,487.40 C62.52,488.23 62.87,488.40 63.20,494.00 C63.53,499.60 63.85,512.50 64.20,521.00 C64.55,529.50 64.93,539.15 65.30,545.00 C65.67,550.85 65.73,553.05 66.40,556.10 C67.07,559.15 68.82,562.10 69.30,563.30" fill="none" stroke="#4d6ca8" stroke-width="0.9" stroke-linejoin="round"/>
<path d="M47.60,563.30 C48.17,561.92 49.80,558.85 51.00,555.00 C52.20,551.15 53.72,545.70 54.80,540.20 C55.88,534.70 56.78,527.55 57.50,522.00 C58.22,516.45 58.40,512.55 59.10,506.90 C59.80,501.25 61.08,491.47 61.70,488.10 C62.32,484.73 62.27,486.45 62.80,486.70 C63.33,486.95 64.18,486.23 64.90,489.60 C65.62,492.97 66.13,499.67 67.10,506.90 C68.07,514.13 69.72,527.65 70.70,533.00 C71.68,538.35 72.03,537.32 73.00,539.00 C73.97,540.68 75.33,541.77 76.50,543.10 C77.67,544.43 78.55,545.32 80.00,547.00 C81.45,548.68 83.87,551.87 85.20,553.20 C86.53,554.53 87.03,554.03 88.00,555.00 C88.97,555.97 89.78,557.62 91.00,559.00 C92.22,560.38 94.58,562.58 95.30,563.30" fill="none" stroke="#7a4e2a" stroke-width="0.9" stroke-linejoin="round"/>
<line x1="199.00" y1="366.00" x2="199.00" y2="276.50" stroke="#111" stroke-width="1.1" />
<path d="M199,272.6 L196.9,278 L201.1,278 Z" fill="#111"/>
<line x1="198.50" y1="366.00" x2="384.00" y2="366.00" stroke="#111" stroke-width="1.1" />
<path d="M388.4,366 L383,363.9 L383,368.1 Z" fill="#111"/>
<text x="195.20" y="319.00" font-size="8.8" text-anchor="middle" fill="#2a2a2a" font-weight="bold" textLength="34.50" lengthAdjust="spacingAndGlyphs" transform="rotate(-90 195.20 319.00)" >Cell counts</text>
<text x="293.00" y="378.40" font-size="9.2" text-anchor="middle" fill="#2a2a2a" font-weight="bold" textLength="21.50" lengthAdjust="spacingAndGlyphs" >CD11b</text>
<rect x="208.30" y="378.00" width="8.8" height="8.8" fill="none" stroke="#7c86ac" stroke-width="1.2"/>
<text x="221.00" y="385.30" font-size="8.4" text-anchor="start" fill="#231f20" stroke="#231f20" stroke-width="0.05" >DMSO</text>
<rect x="208.30" y="389.50" width="8.8" height="8.8" fill="none" stroke="#f4c07a" stroke-width="1.2"/>
<text x="221.00" y="396.80" font-size="8.4" text-anchor="start" fill="#231f20" stroke="#231f20" stroke-width="0.05" >Seli 2d/w</text>
<rect x="208.30" y="401.00" width="8.8" height="8.8" fill="none" stroke="#d47c98" stroke-width="1.2"/>
<text x="221.00" y="408.30" font-size="8.4" text-anchor="start" fill="#231f20" stroke="#231f20" stroke-width="0.05" >Seli 5d/w</text>
<rect x="335.60" y="378.00" width="8.8" height="8.8" fill="none" stroke="#7a7a7a" stroke-width="1.2"/>
<text x="347.80" y="385.30" font-size="8.4" text-anchor="start" fill="#231f20" stroke="#231f20" stroke-width="0.05" >DMSO</text>
<rect x="335.60" y="389.50" width="8.8" height="8.8" fill="none" stroke="#a6d48a" stroke-width="1.2"/>
<text x="347.80" y="396.80" font-size="8.4" text-anchor="start" fill="#231f20" stroke="#231f20" stroke-width="0.05" >Elta 2d/w</text>
<rect x="335.60" y="401.00" width="8.8" height="8.8" fill="none" stroke="#5a9a80" stroke-width="1.2"/>
<text x="347.80" y="408.30" font-size="8.4" text-anchor="start" fill="#231f20" stroke="#231f20" stroke-width="0.05" >Elta 5d/w</text>
<text x="422.70" y="252.10" font-size="11.2" text-anchor="start" fill="#111" font-weight="bold" stroke="#111" stroke-width="0.35">E</text>
<line x1="462.50" y1="251.00" x2="462.50" y2="369.60" stroke="#2b2b2b" stroke-width="1.3" />
<line x1="459.70" y1="253.40" x2="462.50" y2="253.40" stroke="#2b2b2b" stroke-width="1.1" />
<text x="456.80" y="256.30" font-size="8.2" text-anchor="end" fill="#231f20" stroke="#231f20" stroke-width="0.05" >4</text>
<line x1="459.70" y1="282.30" x2="462.50" y2="282.30" stroke="#2b2b2b" stroke-width="1.1" />
<text x="456.80" y="285.20" font-size="8.2" text-anchor="end" fill="#231f20" stroke="#231f20" stroke-width="0.05" >3</text>
<line x1="459.70" y1="311.20" x2="462.50" y2="311.20" stroke="#2b2b2b" stroke-width="1.1" />
<text x="456.80" y="314.10" font-size="8.2" text-anchor="end" fill="#231f20" stroke="#231f20" stroke-width="0.05" >2</text>
<line x1="459.70" y1="340.10" x2="462.50" y2="340.10" stroke="#2b2b2b" stroke-width="1.1" />
<text x="456.80" y="343.00" font-size="8.2" text-anchor="end" fill="#231f20" stroke="#231f20" stroke-width="0.05" >1</text>
<line x1="459.70" y1="369.00" x2="462.50" y2="369.00" stroke="#2b2b2b" stroke-width="1.1" />
<text x="456.80" y="371.90" font-size="8.2" text-anchor="end" fill="#231f20" stroke="#231f20" stroke-width="0.05" >0</text>
<text x="430.50" y="311.60" font-size="8.8" text-anchor="middle" fill="#2a2a2a" font-weight="bold" textLength="50.60" lengthAdjust="spacingAndGlyphs" transform="rotate(-90 430.50 311.60)" >CD11b (MFI) FC</text>
<text x="443.40" y="311.60" font-size="8.8" text-anchor="middle" fill="#2a2a2a" font-weight="bold" textLength="50.00" lengthAdjust="spacingAndGlyphs" transform="rotate(-90 443.40 311.60)" >(ratio to DMSO)</text>
<line x1="461.90" y1="369.00" x2="513.50" y2="369.00" stroke="#2b2b2b" stroke-width="1.3" />
<rect x="468.40" y="340.10" width="10.90" height="28.90" fill="#47536a" />
<line x1="473.85" y1="369.00" x2="473.85" y2="372.00" stroke="#2b2b2b" stroke-width="1.1" />
<rect x="484.60" y="334.32" width="10.90" height="34.68" fill="#f28f0f" />
<line x1="490.05" y1="369.00" x2="490.05" y2="372.00" stroke="#2b2b2b" stroke-width="1.1" />
<rect x="501.00" y="321.03" width="10.90" height="47.97" fill="#6b3f1d" />
<line x1="506.45" y1="369.00" x2="506.45" y2="372.00" stroke="#2b2b2b" stroke-width="1.1" />
<line x1="506.50" y1="316.60" x2="506.50" y2="321.50" stroke="#222" stroke-width="1" />
<line x1="505.00" y1="316.60" x2="508.00" y2="316.60" stroke="#222" stroke-width="1" />
<line x1="490.00" y1="331.50" x2="490.00" y2="334.00" stroke="#222" stroke-width="1" />
<line x1="488.50" y1="331.50" x2="491.50" y2="331.50" stroke="#222" stroke-width="1" />
<circle cx="470.00" cy="340.50" r="1.65" fill="#111" />
<circle cx="474.00" cy="340.50" r="1.65" fill="#111" />
<circle cx="477.90" cy="340.50" r="1.65" fill="#111" />
<circle cx="486.40" cy="331.90" r="1.65" fill="#111" />
<circle cx="490.30" cy="337.30" r="1.65" fill="#111" />
<circle cx="494.30" cy="332.30" r="1.65" fill="#111" />
<circle cx="506.30" cy="311.60" r="1.65" fill="#111" />
<circle cx="502.90" cy="325.60" r="1.65" fill="#111" />
<circle cx="510.00" cy="325.10" r="1.65" fill="#111" />
<line x1="475.20" y1="304.90" x2="505.60" y2="304.90" stroke="#444" stroke-width="1" />
<text x="491.00" y="302.30" font-size="8.2" text-anchor="middle" fill="#231f20" stroke="#231f20" stroke-width="0.05" >ns</text>
<line x1="475.20" y1="327.40" x2="490.30" y2="327.40" stroke="#444" stroke-width="1" />
<text x="482.50" y="324.90" font-size="8.2" text-anchor="middle" fill="#231f20" stroke="#231f20" stroke-width="0.05" >ns</text>
<text x="477.25" y="377.80" font-size="8.3" text-anchor="end" fill="#231f20" stroke="#231f20" stroke-width="0.05" transform="rotate(-45 477.25 377.80)" >DMSO</text>
<text x="493.45" y="377.80" font-size="8.3" text-anchor="end" fill="#231f20" stroke="#231f20" stroke-width="0.05" transform="rotate(-45 493.45 377.80)" >Seli 50nM 2d/w</text>
<text x="509.90" y="377.80" font-size="8.3" text-anchor="end" fill="#231f20" stroke="#231f20" stroke-width="0.05" transform="rotate(-45 509.90 377.80)" >Seli 100nM 2d/w</text>
<text x="1.30" y="449.20" font-size="11.2" text-anchor="start" fill="#111" font-weight="bold" stroke="#111" stroke-width="0.35">F</text>
<text x="79.60" y="457.60" font-size="9.3" text-anchor="middle" fill="#231f20" stroke="#231f20" stroke-width="0.05" textLength="93.50" lengthAdjust="spacingAndGlyphs" >Gate: live single cells</text>
<text x="79.60" y="471.20" font-size="9.3" text-anchor="middle" fill="#231f20" stroke="#231f20" stroke-width="0.05" textLength="56.00" lengthAdjust="spacingAndGlyphs" >2 days/week</text>
<rect x="36.2" y="478.6" width="86.9" height="85.2" fill="none" stroke="#222" stroke-width="1.3"/>
<line x1="33.60" y1="562.00" x2="36.20" y2="562.00" stroke="#333" stroke-width="0.7" />
<line x1="34.60" y1="558.02" x2="36.20" y2="558.02" stroke="#333" stroke-width="0.7" />
<line x1="34.60" y1="554.04" x2="36.20" y2="554.04" stroke="#333" stroke-width="0.7" />
<line x1="34.60" y1="550.06" x2="36.20" y2="550.06" stroke="#333" stroke-width="0.7" />
<line x1="33.60" y1="546.08" x2="36.20" y2="546.08" stroke="#333" stroke-width="0.7" />
<line x1="34.60" y1="542.10" x2="36.20" y2="542.10" stroke="#333" stroke-width="0.7" />
<line x1="34.60" y1="538.12" x2="36.20" y2="538.12" stroke="#333" stroke-width="0.7" />
<line x1="34.60" y1="534.14" x2="36.20" y2="534.14" stroke="#333" stroke-width="0.7" />
<line x1="33.60" y1="530.16" x2="36.20" y2="530.16" stroke="#333" stroke-width="0.7" />
<line x1="34.60" y1="526.18" x2="36.20" y2="526.18" stroke="#333" stroke-width="0.7" />
<line x1="34.60" y1="522.20" x2="36.20" y2="522.20" stroke="#333" stroke-width="0.7" />
<line x1="34.60" y1="518.22" x2="36.20" y2="518.22" stroke="#333" stroke-width="0.7" />
<line x1="33.60" y1="514.24" x2="36.20" y2="514.24" stroke="#333" stroke-width="0.7" />
<line x1="34.60" y1="510.26" x2="36.20" y2="510.26" stroke="#333" stroke-width="0.7" />
<line x1="34.60" y1="506.28" x2="36.20" y2="506.28" stroke="#333" stroke-width="0.7" />
<line x1="34.60" y1="502.30" x2="36.20" y2="502.30" stroke="#333" stroke-width="0.7" />
<line x1="33.60" y1="498.32" x2="36.20" y2="498.32" stroke="#333" stroke-width="0.7" />
<line x1="34.60" y1="494.34" x2="36.20" y2="494.34" stroke="#333" stroke-width="0.7" />
<line x1="34.60" y1="490.36" x2="36.20" y2="490.36" stroke="#333" stroke-width="0.7" />
<line x1="34.60" y1="486.38" x2="36.20" y2="486.38" stroke="#333" stroke-width="0.7" />
<line x1="33.60" y1="482.40" x2="36.20" y2="482.40" stroke="#333" stroke-width="0.7" />
<line x1="45.70" y1="563.80" x2="45.70" y2="566.00" stroke="#333" stroke-width="0.6" />
<line x1="47.30" y1="563.80" x2="47.30" y2="566.00" stroke="#333" stroke-width="0.6" />
<line x1="48.90" y1="563.80" x2="48.90" y2="566.00" stroke="#333" stroke-width="0.6" />
<line x1="50.50" y1="563.80" x2="50.50" y2="566.00" stroke="#333" stroke-width="0.6" />
<line x1="52.10" y1="563.80" x2="52.10" y2="566.00" stroke="#333" stroke-width="0.6" />
<line x1="53.70" y1="563.80" x2="53.70" y2="566.00" stroke="#333" stroke-width="0.6" />
<line x1="55.30" y1="563.80" x2="55.30" y2="566.00" stroke="#333" stroke-width="0.6" />
<line x1="56.90" y1="563.80" x2="56.90" y2="566.00" stroke="#333" stroke-width="0.6" />
<line x1="58.50" y1="563.80" x2="58.50" y2="566.00" stroke="#333" stroke-width="0.6" />
<line x1="60.10" y1="563.80" x2="60.10" y2="566.00" stroke="#333" stroke-width="0.6" />
<line x1="61.70" y1="563.80" x2="61.70" y2="566.00" stroke="#333" stroke-width="0.6" />
<line x1="63.30" y1="563.80" x2="63.30" y2="566.00" stroke="#333" stroke-width="0.6" />
<line x1="64.90" y1="563.80" x2="64.90" y2="566.00" stroke="#333" stroke-width="0.6" />
<line x1="66.50" y1="563.80" x2="66.50" y2="566.00" stroke="#333" stroke-width="0.6" />
<line x1="68.10" y1="563.80" x2="68.10" y2="566.00" stroke="#333" stroke-width="0.6" />
<line x1="69.70" y1="563.80" x2="69.70" y2="566.00" stroke="#333" stroke-width="0.6" />
<line x1="76.32" y1="563.80" x2="76.32" y2="566.00" stroke="#333" stroke-width="0.6" />
<line x1="80.20" y1="563.80" x2="80.20" y2="566.00" stroke="#333" stroke-width="0.6" />
<line x1="82.95" y1="563.80" x2="82.95" y2="566.00" stroke="#333" stroke-width="0.6" />
<line x1="85.08" y1="563.80" x2="85.08" y2="566.00" stroke="#333" stroke-width="0.6" />
<line x1="86.82" y1="563.80" x2="86.82" y2="566.00" stroke="#333" stroke-width="0.6" />
<line x1="88.29" y1="563.80" x2="88.29" y2="566.00" stroke="#333" stroke-width="0.6" />
<line x1="89.57" y1="563.80" x2="89.57" y2="566.00" stroke="#333" stroke-width="0.6" />
<line x1="90.69" y1="563.80" x2="90.69" y2="566.00" stroke="#333" stroke-width="0.6" />
<line x1="91.70" y1="563.80" x2="91.70" y2="566.00" stroke="#333" stroke-width="0.6" />
<line x1="98.32" y1="563.80" x2="98.32" y2="566.00" stroke="#333" stroke-width="0.6" />
<line x1="102.20" y1="563.80" x2="102.20" y2="566.00" stroke="#333" stroke-width="0.6" />
<line x1="104.95" y1="563.80" x2="104.95" y2="566.00" stroke="#333" stroke-width="0.6" />
<line x1="107.08" y1="563.80" x2="107.08" y2="566.00" stroke="#333" stroke-width="0.6" />
<line x1="108.82" y1="563.80" x2="108.82" y2="566.00" stroke="#333" stroke-width="0.6" />
<line x1="110.29" y1="563.80" x2="110.29" y2="566.00" stroke="#333" stroke-width="0.6" />
<line x1="111.57" y1="563.80" x2="111.57" y2="566.00" stroke="#333" stroke-width="0.6" />
<line x1="112.69" y1="563.80" x2="112.69" y2="566.00" stroke="#333" stroke-width="0.6" />
<line x1="113.70" y1="563.80" x2="113.70" y2="566.00" stroke="#333" stroke-width="0.6" />
<line x1="120.32" y1="563.80" x2="120.32" y2="566.00" stroke="#333" stroke-width="0.6" />
<line x1="29.50" y1="569.40" x2="29.50" y2="484.50" stroke="#111" stroke-width="1.1" />
<path d="M29.5,479.8 L27.4,485.2 L31.6,485.2 Z" fill="#111"/>
<line x1="29.00" y1="569.40" x2="116.00" y2="569.40" stroke="#111" stroke-width="1.1" />
<path d="M120.6,569.4 L115.2,567.3 L115.2,571.5 Z" fill="#111"/>
<text x="25.20" y="524.70" font-size="8.8" text-anchor="middle" fill="#2a2a2a" font-weight="bold" textLength="35.00" lengthAdjust="spacingAndGlyphs" transform="rotate(-90 25.20 524.70)" >Cell counts</text>
<text x="76.00" y="582.20" font-size="9.2" text-anchor="middle" fill="#2a2a2a" font-weight="bold" textLength="20.00" lengthAdjust="spacingAndGlyphs" >CD11b</text>
<rect x="36.4" y="589.60" width="9.4" height="8.8" fill="none" stroke="#7c86ac" stroke-width="1"/>
<text x="48.60" y="597.10" font-size="8.4" text-anchor="start" fill="#231f20" stroke="#231f20" stroke-width="0.05" >DMSO</text>
<rect x="36.4" y="601.00" width="9.4" height="8.8" fill="none" stroke="#ecd0a0" stroke-width="1"/>
<text x="48.60" y="608.50" font-size="8.4" text-anchor="start" fill="#231f20" stroke="#231f20" stroke-width="0.05" >Seli 50nM 2d/w</text>
<rect x="36.4" y="612.40" width="9.4" height="8.8" fill="none" stroke="#8a7262" stroke-width="1"/>
<text x="48.60" y="619.90" font-size="8.4" text-anchor="start" fill="#231f20" stroke="#231f20" stroke-width="0.05" >Seli 100nM 2d/w</text>
<text x="183.00" y="448.90" font-size="11.2" text-anchor="start" fill="#111" font-weight="bold" stroke="#111" stroke-width="0.35">G</text>
<line x1="228.00" y1="458.50" x2="228.00" y2="487.70" stroke="#2b2b2b" stroke-width="1.3" />
<line x1="225.20" y1="487.70" x2="230.80" y2="487.70" stroke="#2b2b2b" stroke-width="1.1" />
<line x1="225.20" y1="458.80" x2="228.00" y2="458.80" stroke="#2b2b2b" stroke-width="1.1" />
<line x1="225.20" y1="468.43" x2="228.00" y2="468.43" stroke="#2b2b2b" stroke-width="1.1" />
<line x1="225.20" y1="478.07" x2="228.00" y2="478.07" stroke="#2b2b2b" stroke-width="1.1" />
<text x="221.80" y="461.70" font-size="8.4" text-anchor="end" fill="#231f20" stroke="#231f20" stroke-width="0.05" >30</text>
<text x="221.80" y="471.33" font-size="8.4" text-anchor="end" fill="#231f20" stroke="#231f20" stroke-width="0.05" >25</text>
<text x="221.80" y="480.97" font-size="8.4" text-anchor="end" fill="#231f20" stroke="#231f20" stroke-width="0.05" >20</text>
<text x="221.80" y="490.60" font-size="8.4" text-anchor="end" fill="#231f20" stroke="#231f20" stroke-width="0.05" >15</text>
<line x1="228.00" y1="498.40" x2="228.00" y2="578.80" stroke="#2b2b2b" stroke-width="1.3" />
<line x1="225.20" y1="498.40" x2="230.80" y2="498.40" stroke="#2b2b2b" stroke-width="1.1" />
<line x1="225.20" y1="538.40" x2="228.00" y2="538.40" stroke="#2b2b2b" stroke-width="1.1" />
<text x="221.80" y="501.30" font-size="8.4" text-anchor="end" fill="#231f20" stroke="#231f20" stroke-width="0.05" >10</text>
<text x="221.80" y="541.30" font-size="8.4" text-anchor="end" fill="#231f20" stroke="#231f20" stroke-width="0.05" >5</text>
<text x="221.80" y="581.10" font-size="8.4" text-anchor="end" fill="#231f20" stroke="#231f20" stroke-width="0.05" >0</text>
<text x="190.60" y="519.30" font-size="8.8" text-anchor="middle" fill="#2a2a2a" font-weight="bold" textLength="51.00" lengthAdjust="spacingAndGlyphs" transform="rotate(-90 190.60 519.30)" >CD11b (MFI) FC</text>
<text x="203.80" y="519.50" font-size="8.8" text-anchor="middle" fill="#2a2a2a" font-weight="bold" textLength="50.70" lengthAdjust="spacingAndGlyphs" transform="rotate(-90 203.80 519.50)" >(ratio to DMSO)</text>
<line x1="227.40" y1="578.20" x2="516.00" y2="578.20" stroke="#2b2b2b" stroke-width="1.3" />
<line x1="420.90" y1="456.80" x2="420.90" y2="578.20" stroke="#444" stroke-width="0.9" stroke-dasharray="1 1.1"/>
<line x1="234.30" y1="578.20" x2="234.30" y2="580.80" stroke="#2b2b2b" stroke-width="1" />
<circle cx="234.30" cy="570.30" r="2.40" fill="#3fa34d" />
<line x1="242.60" y1="578.20" x2="242.60" y2="580.80" stroke="#2b2b2b" stroke-width="1" />
<circle cx="242.60" cy="565.90" r="2.40" fill="#3fa34d" />
<line x1="251.40" y1="578.20" x2="251.40" y2="580.80" stroke="#2b2b2b" stroke-width="1" />
<circle cx="251.40" cy="563.60" r="2.40" fill="#3fa34d" />
<line x1="259.90" y1="578.20" x2="259.90" y2="580.80" stroke="#2b2b2b" stroke-width="1" />
<circle cx="259.90" cy="563.60" r="2.40" fill="#3fa34d" />
<line x1="268.50" y1="578.20" x2="268.50" y2="580.80" stroke="#2b2b2b" stroke-width="1" />
<line x1="268.50" y1="540.70" x2="268.50" y2="547.20" stroke="#6fba79" stroke-width="1.1" />
<line x1="266.70" y1="540.70" x2="270.30" y2="540.70" stroke="#6fba79" stroke-width="1.1" />
<line x1="266.70" y1="547.20" x2="270.30" y2="547.20" stroke="#6fba79" stroke-width="1.1" />
<circle cx="268.50" cy="544.20" r="2.40" fill="#3fa34d" />
<text x="268.50" y="540.30" font-size="6.2" text-anchor="middle" fill="#333" stroke="#333" stroke-width="0.05" >****</text>
<line x1="282.80" y1="578.20" x2="282.80" y2="580.80" stroke="#2b2b2b" stroke-width="1" />
<circle cx="282.80" cy="570.10" r="2.40" fill="#1d4b7a" />
<line x1="291.50" y1="578.20" x2="291.50" y2="580.80" stroke="#2b2b2b" stroke-width="1" />
<circle cx="291.50" cy="563.60" r="2.40" fill="#1d4b7a" />
<line x1="299.90" y1="578.20" x2="299.90" y2="580.80" stroke="#2b2b2b" stroke-width="1" />
<line x1="299.90" y1="549.60" x2="299.90" y2="558.80" stroke="#55789b" stroke-width="1.1" />
<line x1="298.10" y1="549.60" x2="301.70" y2="549.60" stroke="#55789b" stroke-width="1.1" />
<line x1="298.10" y1="558.80" x2="301.70" y2="558.80" stroke="#55789b" stroke-width="1.1" />
<circle cx="299.90" cy="554.50" r="2.40" fill="#1d4b7a" />
<line x1="308.60" y1="578.20" x2="308.60" y2="580.80" stroke="#2b2b2b" stroke-width="1" />
<line x1="308.60" y1="549.60" x2="308.60" y2="558.80" stroke="#55789b" stroke-width="1.1" />
<line x1="306.80" y1="549.60" x2="310.40" y2="549.60" stroke="#55789b" stroke-width="1.1" />
<line x1="306.80" y1="558.80" x2="310.40" y2="558.80" stroke="#55789b" stroke-width="1.1" />
<circle cx="308.60" cy="554.50" r="2.40" fill="#1d4b7a" />
<line x1="317.00" y1="578.20" x2="317.00" y2="580.80" stroke="#2b2b2b" stroke-width="1" />
<line x1="317.00" y1="525.50" x2="317.00" y2="549.20" stroke="#55789b" stroke-width="1.1" />
<line x1="315.20" y1="525.50" x2="318.80" y2="525.50" stroke="#55789b" stroke-width="1.1" />
<line x1="315.20" y1="549.20" x2="318.80" y2="549.20" stroke="#55789b" stroke-width="1.1" />
<circle cx="317.00" cy="537.60" r="2.40" fill="#1d4b7a" />
<text x="317.00" y="525.50" font-size="6.2" text-anchor="middle" fill="#333" stroke="#333" stroke-width="0.05" >*</text>
<line x1="331.30" y1="578.20" x2="331.30" y2="580.80" stroke="#2b2b2b" stroke-width="1" />
<circle cx="331.30" cy="570.10" r="2.40" fill="#b5122e" />
<line x1="340.00" y1="578.20" x2="340.00" y2="580.80" stroke="#2b2b2b" stroke-width="1" />
<line x1="340.00" y1="559.50" x2="340.00" y2="563.00" stroke="#c74d62" stroke-width="1.1" />
<line x1="338.20" y1="559.50" x2="341.80" y2="559.50" stroke="#c74d62" stroke-width="1.1" />
<line x1="338.20" y1="563.00" x2="341.80" y2="563.00" stroke="#c74d62" stroke-width="1.1" />
<circle cx="340.00" cy="561.20" r="2.40" fill="#b5122e" />
<line x1="348.40" y1="578.20" x2="348.40" y2="580.80" stroke="#2b2b2b" stroke-width="1" />
<line x1="348.40" y1="528.40" x2="348.40" y2="546.00" stroke="#c74d62" stroke-width="1.1" />
<line x1="346.60" y1="528.40" x2="350.20" y2="528.40" stroke="#c74d62" stroke-width="1.1" />
<line x1="346.60" y1="546.00" x2="350.20" y2="546.00" stroke="#c74d62" stroke-width="1.1" />
<circle cx="348.40" cy="537.10" r="2.40" fill="#b5122e" />
<line x1="357.10" y1="578.20" x2="357.10" y2="580.80" stroke="#2b2b2b" stroke-width="1" />
<line x1="357.10" y1="509.40" x2="357.10" y2="545.30" stroke="#c74d62" stroke-width="1.1" />
<line x1="355.30" y1="509.40" x2="358.90" y2="509.40" stroke="#c74d62" stroke-width="1.1" />
<line x1="355.30" y1="545.30" x2="358.90" y2="545.30" stroke="#c74d62" stroke-width="1.1" />
<circle cx="357.10" cy="527.50" r="2.40" fill="#b5122e" />
<line x1="365.30" y1="578.20" x2="365.30" y2="580.80" stroke="#2b2b2b" stroke-width="1" />
<line x1="365.30" y1="467.00" x2="365.30" y2="487.70" stroke="#c74d62" stroke-width="1.1" />
<line x1="363.50" y1="467.00" x2="367.10" y2="467.00" stroke="#c74d62" stroke-width="1.1" />
<line x1="363.50" y1="487.70" x2="367.10" y2="487.70" stroke="#c74d62" stroke-width="1.1" />
<circle cx="365.30" cy="477.30" r="2.40" fill="#b5122e" />
<text x="365.30" y="466.40" font-size="6.2" text-anchor="middle" fill="#333" stroke="#333" stroke-width="0.05" >**</text>
<line x1="379.50" y1="578.20" x2="379.50" y2="580.80" stroke="#2b2b2b" stroke-width="1" />
<circle cx="379.50" cy="570.10" r="2.40" fill="#d8187a" />
<line x1="388.20" y1="578.20" x2="388.20" y2="580.80" stroke="#2b2b2b" stroke-width="1" />
<circle cx="388.20" cy="575.40" r="2.40" fill="#d8187a" />
<line x1="396.60" y1="578.20" x2="396.60" y2="580.80" stroke="#2b2b2b" stroke-width="1" />
<circle cx="396.60" cy="575.00" r="2.40" fill="#d8187a" />
<line x1="405.30" y1="578.20" x2="405.30" y2="580.80" stroke="#2b2b2b" stroke-width="1" />
<circle cx="405.30" cy="575.00" r="2.40" fill="#d8187a" />
<line x1="414.00" y1="578.20" x2="414.00" y2="580.80" stroke="#2b2b2b" stroke-width="1" />
<line x1="414.00" y1="548.20" x2="414.00" y2="571.30" stroke="#e1519b" stroke-width="1.1" />
<line x1="412.20" y1="548.20" x2="415.80" y2="548.20" stroke="#e1519b" stroke-width="1.1" />
<line x1="412.20" y1="571.30" x2="415.80" y2="571.30" stroke="#e1519b" stroke-width="1.1" />
<circle cx="414.00" cy="559.80" r="2.40" fill="#d8187a" />
<line x1="428.10" y1="578.20" x2="428.10" y2="580.80" stroke="#2b2b2b" stroke-width="1" />
<circle cx="428.10" cy="570.30" r="2.40" fill="#f2b705" />
<line x1="436.80" y1="578.20" x2="436.80" y2="580.80" stroke="#2b2b2b" stroke-width="1" />
<circle cx="436.80" cy="570.30" r="2.40" fill="#f2b705" />
<line x1="445.50" y1="578.20" x2="445.50" y2="580.80" stroke="#2b2b2b" stroke-width="1" />
<circle cx="445.50" cy="570.30" r="2.40" fill="#f2b705" />
<line x1="453.90" y1="578.20" x2="453.90" y2="580.80" stroke="#2b2b2b" stroke-width="1" />
<line x1="453.90" y1="558.50" x2="453.90" y2="562.70" stroke="#f5c943" stroke-width="1.1" />
<line x1="452.10" y1="558.50" x2="455.70" y2="558.50" stroke="#f5c943" stroke-width="1.1" />
<line x1="452.10" y1="562.70" x2="455.70" y2="562.70" stroke="#f5c943" stroke-width="1.1" />
<circle cx="453.90" cy="560.60" r="2.40" fill="#f2b705" />
<text x="453.90" y="557.60" font-size="6.2" text-anchor="middle" fill="#333" stroke="#333" stroke-width="0.05" >**</text>
<line x1="462.40" y1="578.20" x2="462.40" y2="580.80" stroke="#2b2b2b" stroke-width="1" />
<line x1="462.40" y1="559.50" x2="462.40" y2="564.00" stroke="#f5c943" stroke-width="1.1" />
<line x1="460.60" y1="559.50" x2="464.20" y2="559.50" stroke="#f5c943" stroke-width="1.1" />
<line x1="460.60" y1="564.00" x2="464.20" y2="564.00" stroke="#f5c943" stroke-width="1.1" />
<circle cx="462.40" cy="561.80" r="2.40" fill="#f2b705" />
<text x="462.40" y="552.80" font-size="6.2" text-anchor="middle" fill="#333" stroke="#333" stroke-width="0.05" >**</text>
<line x1="476.80" y1="578.20" x2="476.80" y2="580.80" stroke="#2b2b2b" stroke-width="1" />
<circle cx="476.80" cy="570.30" r="2.40" fill="#c8c8c8" />
<line x1="485.30" y1="578.20" x2="485.30" y2="580.80" stroke="#2b2b2b" stroke-width="1" />
<line x1="485.30" y1="561.60" x2="485.30" y2="566.00" stroke="#d5d5d5" stroke-width="1.1" />
<line x1="483.50" y1="561.60" x2="487.10" y2="561.60" stroke="#d5d5d5" stroke-width="1.1" />
<line x1="483.50" y1="566.00" x2="487.10" y2="566.00" stroke="#d5d5d5" stroke-width="1.1" />
<circle cx="485.30" cy="563.80" r="2.40" fill="#c8c8c8" />
<line x1="493.70" y1="578.20" x2="493.70" y2="580.80" stroke="#2b2b2b" stroke-width="1" />
<line x1="493.70" y1="561.60" x2="493.70" y2="566.00" stroke="#d5d5d5" stroke-width="1.1" />
<line x1="491.90" y1="561.60" x2="495.50" y2="561.60" stroke="#d5d5d5" stroke-width="1.1" />
<line x1="491.90" y1="566.00" x2="495.50" y2="566.00" stroke="#d5d5d5" stroke-width="1.1" />
<circle cx="493.70" cy="563.80" r="2.40" fill="#c8c8c8" />
<line x1="502.40" y1="578.20" x2="502.40" y2="580.80" stroke="#2b2b2b" stroke-width="1" />
<line x1="502.40" y1="558.00" x2="502.40" y2="562.00" stroke="#d5d5d5" stroke-width="1.1" />
<line x1="500.60" y1="558.00" x2="504.20" y2="558.00" stroke="#d5d5d5" stroke-width="1.1" />
<line x1="500.60" y1="562.00" x2="504.20" y2="562.00" stroke="#d5d5d5" stroke-width="1.1" />
<circle cx="502.40" cy="559.90" r="2.40" fill="#c8c8c8" />
<text x="502.40" y="555.70" font-size="6.2" text-anchor="middle" fill="#333" stroke="#333" stroke-width="0.05" >*</text>
<line x1="510.80" y1="578.20" x2="510.80" y2="580.80" stroke="#2b2b2b" stroke-width="1" />
<line x1="510.80" y1="503.00" x2="510.80" y2="507.20" stroke="#d5d5d5" stroke-width="1.1" />
<line x1="509.00" y1="503.00" x2="512.60" y2="503.00" stroke="#d5d5d5" stroke-width="1.1" />
<line x1="509.00" y1="507.20" x2="512.60" y2="507.20" stroke="#d5d5d5" stroke-width="1.1" />
<circle cx="510.80" cy="505.10" r="2.40" fill="#c8c8c8" />
<text x="510.80" y="502.60" font-size="6.2" text-anchor="middle" fill="#333" stroke="#333" stroke-width="0.05" >****</text>
<circle cx="239.60" cy="463.00" r="2.40" fill="#3fa34d" />
<text x="245.00" y="465.90" font-size="8.2" text-anchor="start" fill="#231f20" stroke="#231f20" stroke-width="0.05" textLength="25.50" lengthAdjust="spacingAndGlyphs" >UPN01</text>
<circle cx="239.60" cy="475.07" r="2.40" fill="#1d4b7a" />
<text x="245.00" y="477.97" font-size="8.2" text-anchor="start" fill="#231f20" stroke="#231f20" stroke-width="0.05" textLength="25.50" lengthAdjust="spacingAndGlyphs" >UPN02</text>
<circle cx="239.60" cy="487.14" r="2.40" fill="#b5122e" />
<text x="245.00" y="490.04" font-size="8.2" text-anchor="start" fill="#231f20" stroke="#231f20" stroke-width="0.05" textLength="25.50" lengthAdjust="spacingAndGlyphs" >UPN03</text>
<circle cx="239.60" cy="499.21" r="2.40" fill="#d8187a" />
<text x="245.00" y="502.11" font-size="8.2" text-anchor="start" fill="#231f20" stroke="#231f20" stroke-width="0.05" textLength="25.50" lengthAdjust="spacingAndGlyphs" >UPN04</text>
<circle cx="432.40" cy="463.40" r="2.40" fill="#f2b705" />
<text x="438.20" y="466.30" font-size="8.2" text-anchor="start" fill="#231f20" stroke="#231f20" stroke-width="0.05" >PDX2</text>
<circle cx="432.40" cy="475.70" r="2.40" fill="#c8c8c8" />
<text x="438.20" y="478.60" font-size="8.2" text-anchor="start" fill="#231f20" stroke="#231f20" stroke-width="0.05" >PDX3</text>
<text x="237.10" y="586.20" font-size="6.3" text-anchor="end" fill="#333" stroke="#333" stroke-width="0.05" transform="rotate(-45 237.10 586.20)" >DMSO</text>
<text x="245.40" y="586.20" font-size="6.3" text-anchor="end" fill="#333" stroke="#333" stroke-width="0.05" transform="rotate(-45 245.40 586.20)" >Seli 2d/w</text>
<text x="254.20" y="586.20" font-size="6.3" text-anchor="end" fill="#333" stroke="#333" stroke-width="0.05" transform="rotate(-45 254.20 586.20)" >Seli 5d/w</text>
<text x="262.70" y="586.20" font-size="6.3" text-anchor="end" fill="#333" stroke="#333" stroke-width="0.05" transform="rotate(-45 262.70 586.20)" >Elta 2d/w</text>
<text x="271.30" y="586.20" font-size="6.3" text-anchor="end" fill="#333" stroke="#333" stroke-width="0.05" transform="rotate(-45 271.30 586.20)" >Elta 5d/w</text>
<text x="285.60" y="586.20" font-size="6.3" text-anchor="end" fill="#333" stroke="#333" stroke-width="0.05" transform="rotate(-45 285.60 586.20)" >DMSO</text>
<text x="294.30" y="586.20" font-size="6.3" text-anchor="end" fill="#333" stroke="#333" stroke-width="0.05" transform="rotate(-45 294.30 586.20)" >Seli 2d/w</text>
<text x="302.70" y="586.20" font-size="6.3" text-anchor="end" fill="#333" stroke="#333" stroke-width="0.05" transform="rotate(-45 302.70 586.20)" >Seli 5d/w</text>
<text x="311.40" y="586.20" font-size="6.3" text-anchor="end" fill="#333" stroke="#333" stroke-width="0.05" transform="rotate(-45 311.40 586.20)" >Elta 2d/w</text>
<text x="319.80" y="586.20" font-size="6.3" text-anchor="end" fill="#333" stroke="#333" stroke-width="0.05" transform="rotate(-45 319.80 586.20)" >Elta 5d/w</text>
<text x="334.10" y="586.20" font-size="6.3" text-anchor="end" fill="#333" stroke="#333" stroke-width="0.05" transform="rotate(-45 334.10 586.20)" >DMSO</text>
<text x="342.80" y="586.20" font-size="6.3" text-anchor="end" fill="#333" stroke="#333" stroke-width="0.05" transform="rotate(-45 342.80 586.20)" >Seli 2d/w</text>
<text x="351.20" y="586.20" font-size="6.3" text-anchor="end" fill="#333" stroke="#333" stroke-width="0.05" transform="rotate(-45 351.20 586.20)" >Seli 5d/w</text>
<text x="359.90" y="586.20" font-size="6.3" text-anchor="end" fill="#333" stroke="#333" stroke-width="0.05" transform="rotate(-45 359.90 586.20)" >Elta 2d/w</text>
<text x="368.10" y="586.20" font-size="6.3" text-anchor="end" fill="#333" stroke="#333" stroke-width="0.05" transform="rotate(-45 368.10 586.20)" >Elta 5d/w</text>
<text x="382.30" y="586.20" font-size="6.3" text-anchor="end" fill="#333" stroke="#333" stroke-width="0.05" transform="rotate(-45 382.30 586.20)" >DMSO</text>
<text x="391.00" y="586.20" font-size="6.3" text-anchor="end" fill="#333" stroke="#333" stroke-width="0.05" transform="rotate(-45 391.00 586.20)" >Seli 2d/w</text>
<text x="399.40" y="586.20" font-size="6.3" text-anchor="end" fill="#333" stroke="#333" stroke-width="0.05" transform="rotate(-45 399.40 586.20)" >Seli 5d/w</text>
<text x="408.10" y="586.20" font-size="6.3" text-anchor="end" fill="#333" stroke="#333" stroke-width="0.05" transform="rotate(-45 408.10 586.20)" >Elta 2d/w</text>
<text x="416.80" y="586.20" font-size="6.3" text-anchor="end" fill="#333" stroke="#333" stroke-width="0.05" transform="rotate(-45 416.80 586.20)" >Elta 5d/w</text>
<text x="430.90" y="586.20" font-size="6.3" text-anchor="end" fill="#333" stroke="#333" stroke-width="0.05" transform="rotate(-45 430.90 586.20)" >DMSO</text>
<text x="439.60" y="586.20" font-size="6.3" text-anchor="end" fill="#333" stroke="#333" stroke-width="0.05" transform="rotate(-45 439.60 586.20)" >Seli 2d/w</text>
<text x="448.30" y="586.20" font-size="6.3" text-anchor="end" fill="#333" stroke="#333" stroke-width="0.05" transform="rotate(-45 448.30 586.20)" >Seli 5d/w</text>
<text x="456.70" y="586.20" font-size="6.3" text-anchor="end" fill="#333" stroke="#333" stroke-width="0.05" transform="rotate(-45 456.70 586.20)" >Elta 2d/w</text>
<text x="465.20" y="586.20" font-size="6.3" text-anchor="end" fill="#333" stroke="#333" stroke-width="0.05" transform="rotate(-45 465.20 586.20)" >Elta 5d/w</text>
<text x="479.60" y="586.20" font-size="6.3" text-anchor="end" fill="#333" stroke="#333" stroke-width="0.05" transform="rotate(-45 479.60 586.20)" >DMSO</text>
<text x="488.10" y="586.20" font-size="6.3" text-anchor="end" fill="#333" stroke="#333" stroke-width="0.05" transform="rotate(-45 488.10 586.20)" >Seli 2d/w</text>
<text x="496.50" y="586.20" font-size="6.3" text-anchor="end" fill="#333" stroke="#333" stroke-width="0.05" transform="rotate(-45 496.50 586.20)" >Seli 5d/w</text>
<text x="505.20" y="586.20" font-size="6.3" text-anchor="end" fill="#333" stroke="#333" stroke-width="0.05" transform="rotate(-45 505.20 586.20)" >Elta 2d/w</text>
<text x="513.60" y="586.20" font-size="6.3" text-anchor="end" fill="#333" stroke="#333" stroke-width="0.05" transform="rotate(-45 513.60 586.20)" >Elta 5d/w</text>
</svg></body></html>
